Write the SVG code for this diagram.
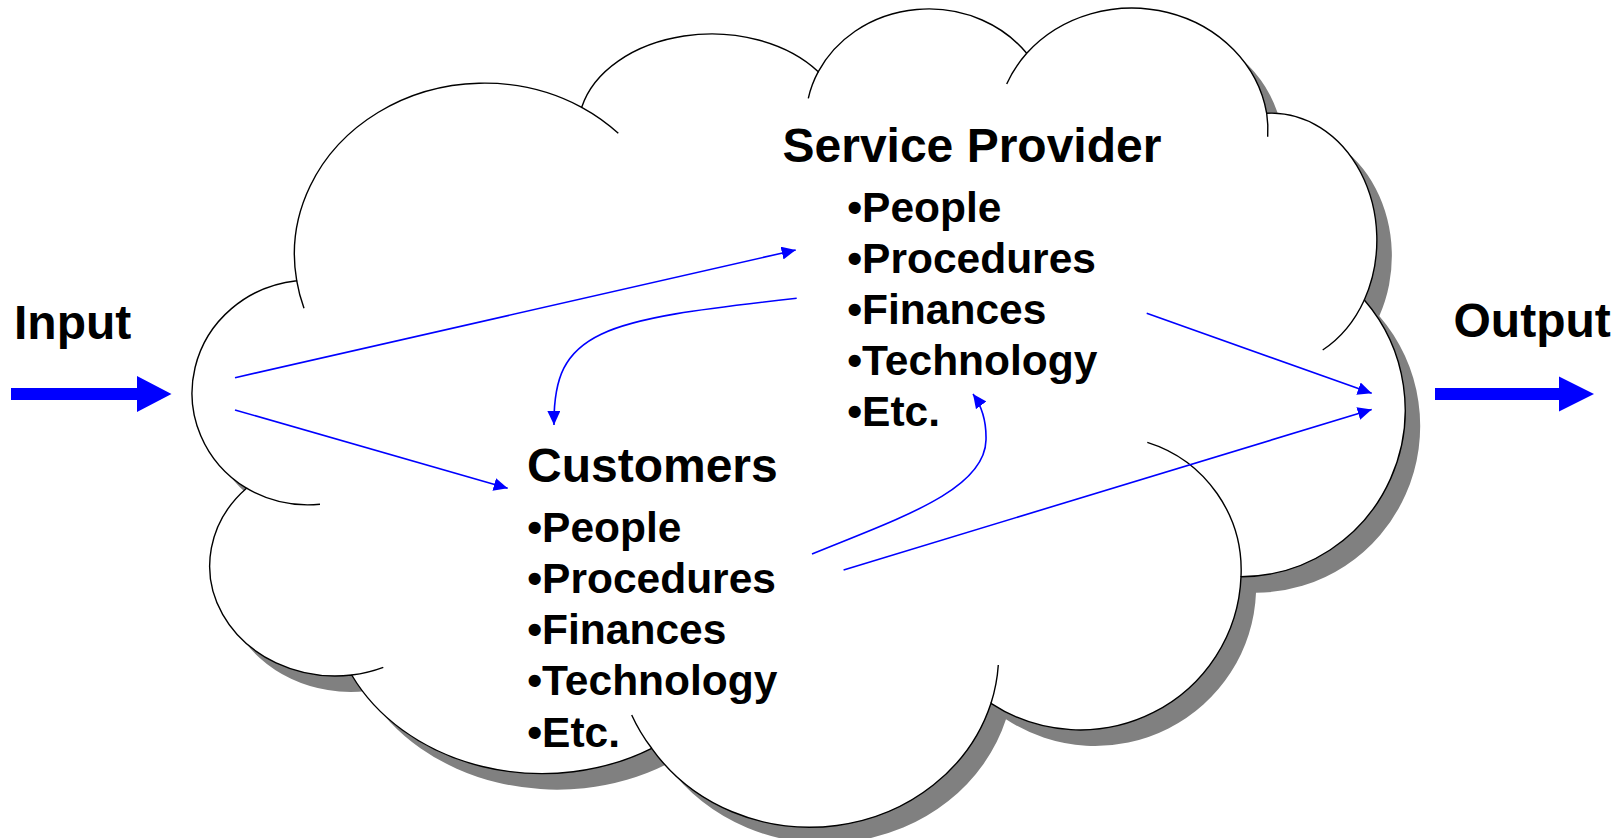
<svg xmlns="http://www.w3.org/2000/svg" width="1621" height="838" viewBox="0 0 1621 838">
  <style>
    .lbl { font-family: "Liberation Sans", Arial, sans-serif; font-weight: bold; fill: #000; }
    .head { font-size: 48px; }
    .item { font-size: 42.5px; }
    .edge { fill: none; stroke: #0000FF; stroke-width: 1.6; }
    .cloud-line { fill: none; stroke: #000; stroke-width: 1.4; }
    .big-arrow { fill: #0000FF; }
  </style>
  <defs>
    <marker id="ah" viewBox="0 0 14 13" refX="14" refY="6.5" markerWidth="14" markerHeight="13" markerUnits="userSpaceOnUse" orient="auto">
      <path d="M0,0 L14,6.5 L0,13 Z" fill="#0000FF"/>
    </marker>
    <path id="cloudOutline" d="M296.7,280.7 A190,171 0 0 1 581.7,107.3 A133.4,94.65 0 0 1 818.3,71.7 A122.7,111.4 0 0 1 1026.7,53.3 A136.6,125 0 0 1 1266.7,113.3 A105.4,126.8 0 0 1 1364.3,300 A164.5,166.7 0 0 1 1241,576.7 A161,159.3 0 0 1 991,703.3 A189,174 0 0 1 651.7,748.3 A212,176 0 0 1 351.7,675 A126,110 0 0 1 246.5,488.2 A118,113 0 0 1 296.7,280.7 Z"/>
  </defs>
  <rect width="1621" height="838" fill="#FFFFFF"/>

  <g id="cloud">
    <use href="#cloudOutline" transform="translate(15,16)" fill="#808080"/>
    <use href="#cloudOutline" fill="#FFFFFF" stroke="#000" stroke-width="1.4"/>
    <path class="cloud-line" d="M296.7,280.7 A190,171 0 0 0 304,308.3"/>
    <path class="cloud-line" d="M581.7,107.3 A190,171 0 0 1 618.3,133.3"/>
    <path class="cloud-line" d="M818.3,71.7 A122.7,111.4 0 0 0 808.3,98.3"/>
    <path class="cloud-line" d="M1026.7,53.3 A136.6,125 0 0 0 1006.7,84"/>
    <path class="cloud-line" d="M1266.7,113.3 A136.6,125 0 0 1 1267.7,136.7"/>
    <path class="cloud-line" d="M1364.3,300 A105.4,126.8 0 0 1 1322.7,350"/>
    <path class="cloud-line" d="M1241,576.7 A134,134 0 0 0 1147.3,442.3"/>
    <path class="cloud-line" d="M991,703.3 A189,174 0 0 0 998.3,665"/>
    <path class="cloud-line" d="M651.7,748.3 A189,174 0 0 1 631.7,715"/>
    <path class="cloud-line" d="M351.7,675 A126,110 0 0 0 383.3,667.3"/>
    <path class="cloud-line" d="M246.5,488.2 A118,113 0 0 0 320,504.3"/>
  </g>

  <g id="input">
    <text class="lbl head" x="14" y="338.5">Input</text>
    <polygon class="big-arrow" points="11,388 137,388 137,376 171.5,394 137,412 137,400 11,400"/>
  </g>

  <g id="output">
    <text class="lbl head" x="1453.5" y="337">Output</text>
    <polygon class="big-arrow" points="1435,388 1559,388 1559,376.5 1594,394 1559,411.5 1559,400 1435,400"/>
  </g>

  <g id="service-provider">
    <text class="lbl head" x="782.5" y="162.3">Service Provider</text>
    <text class="lbl item" x="847.2" y="221.7">•People</text>
    <text class="lbl item" x="847.2" y="272.5">•Procedures</text>
    <text class="lbl item" x="847.2" y="323.5">•Finances</text>
    <text class="lbl item" x="847.2" y="375">•Technology</text>
    <text class="lbl item" x="847.2" y="425.7">•Etc.</text>
  </g>

  <g id="customers">
    <text class="lbl head" x="527" y="482">Customers</text>
    <text class="lbl item" x="527.2" y="542">•People</text>
    <text class="lbl item" x="527.2" y="592.5">•Procedures</text>
    <text class="lbl item" x="527.2" y="643.7">•Finances</text>
    <text class="lbl item" x="527.2" y="695">•Technology</text>
    <text class="lbl item" x="527.2" y="746.5">•Etc.</text>
  </g>

  <g id="connectors">
    <path class="edge" d="M235,377.7 L795.7,250" marker-end="url(#ah)"/>
    <path class="edge" d="M235,410 L507.7,488.3" marker-end="url(#ah)"/>
    <path class="edge" d="M796.7,298.3 C600,320 553,330 554,425" marker-end="url(#ah)"/>
    <path class="edge" d="M812,554 C900,518 985,490 986,440 C986.5,420 981,405 973,394" marker-end="url(#ah)"/>
    <path class="edge" d="M1146.7,313.3 L1371.7,393.3" marker-end="url(#ah)"/>
    <path class="edge" d="M843.6,570 L1371.7,409.5" marker-end="url(#ah)"/>
  </g>
</svg>
